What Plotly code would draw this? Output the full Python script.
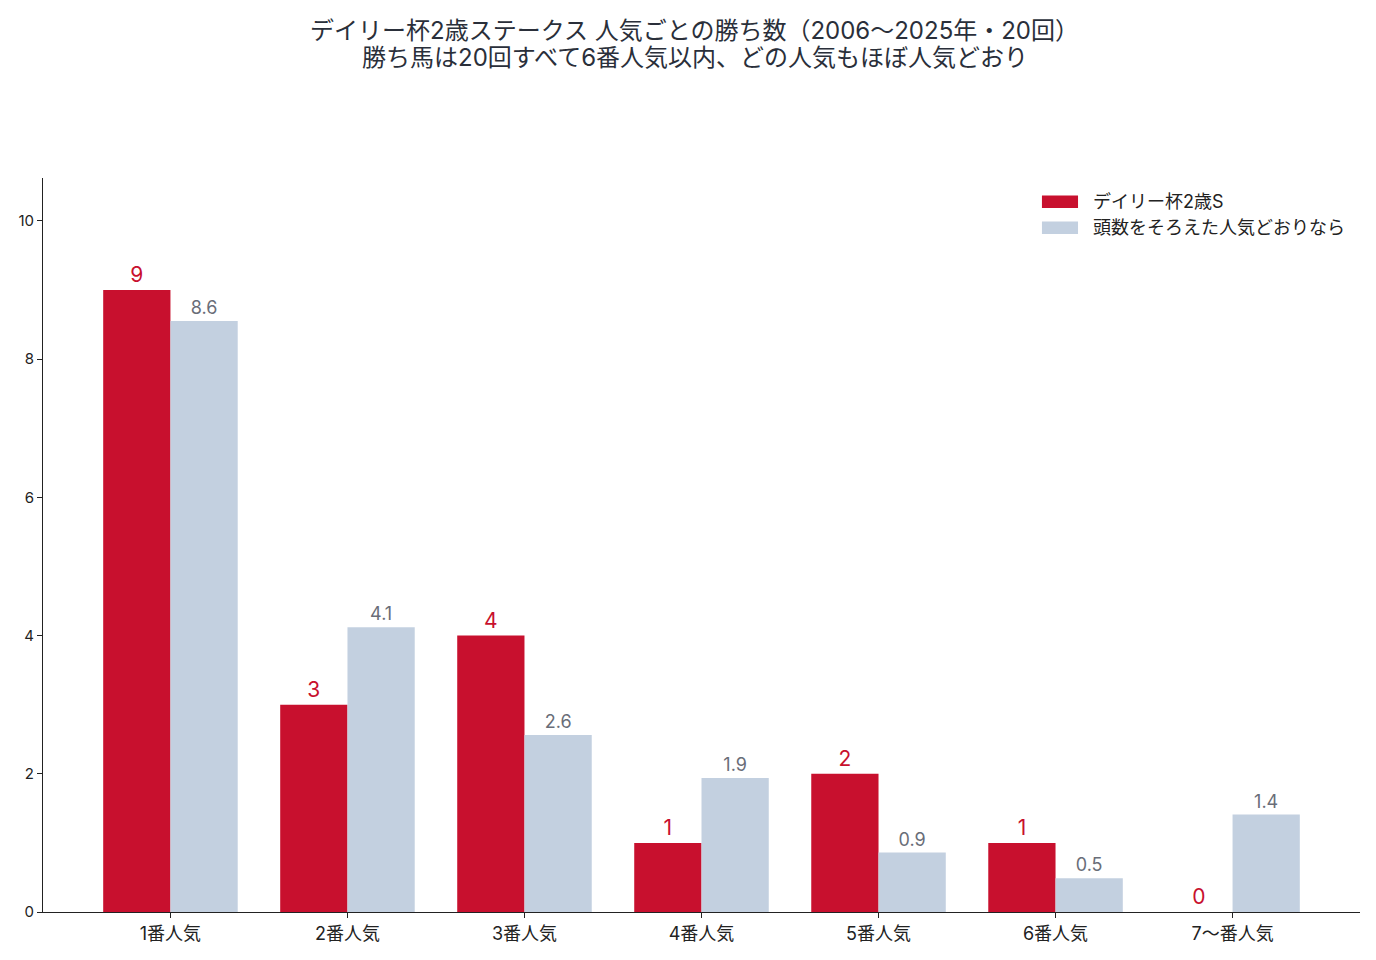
import plotly.graph_objects as go

# 人気ごとの勝ち数（2006〜2025年・20回）
ninki = ["1番人気", "2番人気", "3番人気", "4番人気", "5番人気", "6番人気", "7〜番人気"]
kachi = [9, 3, 4, 1, 2, 1, 0]
kitai = [8.55, 4.12, 2.56, 1.94, 0.86, 0.49, 1.41]

name_kachi = "デイリー杯2歳S"
name_kitai = "頭数をそろえた人気どおりなら"
title1 = "デイリー杯2歳ステークス 人気ごとの勝ち数（2006〜2025年・20回）"
title2 = "勝ち馬は20回すべて6番人気以内、どの人気もほぼ人気どおり"

RED = "#C8102E"
BLUE = "#C3D0E0"
FONT = "Inter, Noto Sans CJK JP"

fig = go.Figure()

fig.add_trace(go.Bar(
    x=ninki,
    y=kachi,
    name=name_kachi,
    marker=dict(color=RED, line=dict(width=0)),
    text=[str(v) for v in kachi],
    textposition="outside",
    textfont=dict(color=RED, size=21, family=FONT),
    cliponaxis=False,
))

fig.add_trace(go.Bar(
    x=ninki,
    y=kitai,
    name=name_kitai,
    marker=dict(color=BLUE, line=dict(width=0)),
    text=[f"{v:.1f}" for v in kitai],
    textposition="outside",
    textfont=dict(color="#696D78", size=18, family=FONT),
    cliponaxis=False,
))

# タイトル2行（注釈で配置）
for txt, yy in [(title1, 1.2016), (title2, 1.1638)]:
    fig.add_annotation(
        text=txt,
        x=0.495, xref="paper", xanchor="center",
        y=yy, yref="paper", yanchor="middle",
        showarrow=False,
        font=dict(size=24, color="#2a2f3a", family=FONT),
    )

# 凡例（横長の色見本を描くため手作り）
for nm, col, yy in [(name_kachi, RED, 0.9675), (name_kitai, BLUE, 0.9323)]:
    fig.add_shape(
        type="rect", xref="paper", yref="paper",
        x0=0.7585, x1=0.7859, y0=yy - 0.0085, y1=yy + 0.0085,
        fillcolor=col, line=dict(width=0),
    )
    fig.add_annotation(
        text=nm,
        x=0.7955, xref="paper", xanchor="left",
        y=yy, yref="paper", yanchor="middle",
        showarrow=False,
        font=dict(size=18, color="#222222", family=FONT),
    )

fig.update_layout(
    width=1360,
    height=944,
    barmode="group",
    bargap=0.24,
    bargroupgap=0,
    showlegend=False,
    plot_bgcolor="white",
    paper_bgcolor="white",
    font=dict(family=FONT, color="#222222", size=14),
    margin=dict(l=35, r=8, t=170, b=35),
    xaxis=dict(
        range=[-0.72, 6.72],
        showline=True,
        linecolor="#222222",
        linewidth=1,
        ticks="outside",
        ticklen=5,
        tickcolor="#222222",
        tickfont=dict(size=18, family=FONT),
        showgrid=False,
    ),
    yaxis=dict(
        range=[0, 10.62],
        dtick=2,
        showline=True,
        linecolor="#222222",
        linewidth=1,
        ticks="outside",
        ticklen=5,
        tickcolor="#222222",
        tickfont=dict(size=15, family=FONT),
        showgrid=False,
        zeroline=False,
    ),
)

fig.write_html("out.html")
